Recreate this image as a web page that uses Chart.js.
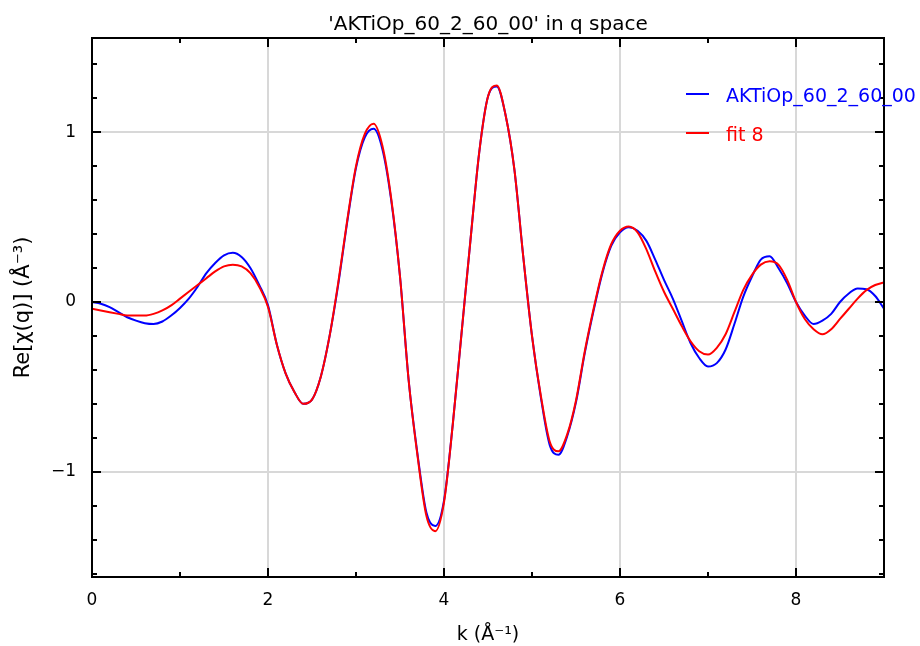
<!DOCTYPE html>
<html lang="en">
  <head>
    <meta charset="UTF-8" />
    <title>AKTiOp q space</title>
    <script src="https://cdn.jsdelivr.net/npm/chart.js@4/dist/chart.umd.min.js"></script>
    <style>
      html, body { margin: 0; padding: 0; background: #fff; }
      #wrap { width: 920px; height: 646px; }
    </style>
  </head>
  <body>
    <div id="wrap"><canvas id="qChart" width="920" height="646"></canvas></div>

    <script>
      const kValues = [
        0.0, 0.1, 0.2, 0.3, 0.4, 0.5, 0.6, 0.7, 0.8, 0.9,
        1.0, 1.1, 1.2, 1.3, 1.4, 1.5, 1.6, 1.7, 1.8, 1.9,
        2.0, 2.1, 2.2, 2.3, 2.4, 2.5, 2.6, 2.7, 2.8, 2.9,
        3.0, 3.1, 3.2, 3.3, 3.4, 3.5, 3.6, 3.7, 3.8, 3.9,
        4.0, 4.1, 4.2, 4.3, 4.4, 4.5, 4.6, 4.7, 4.8, 4.9,
        5.0, 5.1, 5.2, 5.3, 5.4, 5.5, 5.6, 5.7, 5.8, 5.9,
        6.0, 6.1, 6.2, 6.3, 6.4, 6.5, 6.6, 6.7, 6.8, 6.9,
        7.0, 7.1, 7.2, 7.3, 7.4, 7.5, 7.6, 7.7, 7.8, 7.9,
        8.0, 8.1, 8.2, 8.3, 8.4, 8.5, 8.6, 8.7, 8.8, 8.9,
        9.0
      ];

      // data: AKTiOp_60_2_60_00 (blue)
      const dataValues = [
        0.00, -0.01, -0.03, -0.06, -0.09, -0.11, -0.125, -0.13, -0.115, -0.08,
        -0.035, 0.02, 0.09, 0.17, 0.23, 0.275, 0.29, 0.265, 0.20, 0.10,
        -0.02, -0.25, -0.42, -0.53, -0.60, -0.575, -0.44, -0.20, 0.11, 0.47,
        0.79, 0.97, 1.02, 0.90, 0.60, 0.15, -0.47, -0.90, -1.24, -1.32,
        -1.17, -0.72, -0.18, 0.36, 0.88, 1.21, 1.27, 1.10, 0.78, 0.27,
        -0.20, -0.56, -0.84, -0.90, -0.79, -0.59, -0.30, -0.05, 0.17, 0.33,
        0.41, 0.44, 0.42, 0.36, 0.25, 0.13, 0.02, -0.11, -0.24, -0.33,
        -0.38, -0.36, -0.28, -0.13, 0.03, 0.15, 0.25, 0.27, 0.20, 0.11,
        0.00, -0.08, -0.13, -0.11, -0.07, 0.00, 0.05, 0.08, 0.075, 0.035,
        -0.04
      ];

      // fit 8 (red)
      const fitValues = [
        -0.04, -0.05, -0.06, -0.07, -0.08, -0.08, -0.08, -0.07, -0.05, -0.02,
        0.02, 0.06, 0.10, 0.14, 0.18, 0.21, 0.22, 0.21, 0.17, 0.09,
        -0.03, -0.25, -0.42, -0.53, -0.60, -0.575, -0.44, -0.20, 0.12, 0.48,
        0.80, 0.99, 1.05, 0.92, 0.61, 0.15, -0.47, -0.91, -1.26, -1.35,
        -1.18, -0.72, -0.18, 0.36, 0.88, 1.21, 1.275, 1.10, 0.78, 0.27,
        -0.20, -0.55, -0.82, -0.88, -0.78, -0.58, -0.29, -0.04, 0.18, 0.34,
        0.42, 0.445, 0.41, 0.31, 0.18, 0.06, -0.04, -0.14, -0.23, -0.29,
        -0.31, -0.27, -0.19, -0.06, 0.07, 0.16, 0.22, 0.24, 0.22, 0.13,
        0.00, -0.10, -0.16, -0.19, -0.16, -0.10, -0.04, 0.02, 0.07, 0.10,
        0.115
      ];

      const seriesLabels = ["AKTiOp_60_2_60_00", "fit 8"];
      const seriesColors = ["#0000ff", "#ff0000"];

      // tick labels / gridlines
      const xTickValues = [0, 2, 4, 6, 8];
      const yTickValues = [-1, 0, 1];
      const xMinorTicks = [0, 1, 2, 3, 4, 5, 6, 7, 8, 9];
      const yMinorTicks = [-1.6, -1.4, -1.2, -1, -0.8, -0.6, -0.4, -0.2, 0, 0.2, 0.4, 0.6, 0.8, 1, 1.2, 1.4];

      const FONT = "'DejaVu Sans', sans-serif";

      function toPoints(xs, ys) {
        return xs.map((x, i) => ({ x: x, y: ys[i] }));
      }

      // frame + inward ticks + legend in the upper right
      const framePlugin = {
        id: "frame",
        afterDraw(chart) {
          const ctx = chart.ctx;
          const a = chart.chartArea;
          const xs = chart.scales.x;
          const ys = chart.scales.y;
          ctx.save();
          ctx.strokeStyle = "#000";
          ctx.lineWidth = 2;
          ctx.strokeRect(a.left, a.top, a.right - a.left, a.bottom - a.top);

          ctx.beginPath();
          xMinorTicks.forEach((v) => {
            const px = Math.round(xs.getPixelForValue(v));
            const len = v % 2 === 0 ? 9 : 5;
            ctx.moveTo(px, a.bottom);
            ctx.lineTo(px, a.bottom - len);
            ctx.moveTo(px, a.top);
            ctx.lineTo(px, a.top + len);
          });
          yMinorTicks.forEach((v) => {
            const py = Math.round(ys.getPixelForValue(v));
            const len = Math.abs(v - Math.round(v)) < 1e-6 ? 9 : 5;
            ctx.moveTo(a.left, py);
            ctx.lineTo(a.left + len, py);
            ctx.moveTo(a.right, py);
            ctx.lineTo(a.right - len, py);
          });
          ctx.stroke();

          // legend
          ctx.font = "19px " + FONT;
          ctx.textBaseline = "middle";
          ctx.textAlign = "left";
          const rows = [95, 134];
          seriesLabels.forEach((lab, i) => {
            const y = rows[i];
            ctx.strokeStyle = seriesColors[i];
            ctx.lineWidth = 2;
            ctx.beginPath();
            ctx.moveTo(a.right - 198, y - 1);
            ctx.lineTo(a.right - 175, y - 1);
            ctx.stroke();
            ctx.fillStyle = seriesColors[i];
            ctx.fillText(lab, a.right - 158, y + 2);
          });
          ctx.restore();
        },
      };

      const ctx = document.getElementById("qChart").getContext("2d");
      const qChart = new Chart(ctx, {
        type: "line",
        data: {
          datasets: [
            {
              label: seriesLabels[0],
              data: toPoints(kValues, dataValues),
              borderColor: seriesColors[0],
              borderWidth: 2,
              pointRadius: 0,
              cubicInterpolationMode: "monotone",
              order: 1,
            },
            {
              label: seriesLabels[1],
              data: toPoints(kValues, fitValues),
              borderColor: seriesColors[1],
              borderWidth: 2,
              pointRadius: 0,
              cubicInterpolationMode: "monotone",
              order: 0,
            },
          ],
        },
        options: {
          responsive: false,
          animation: false,
          layout: { padding: { left: 0, right: 36, top: 0, bottom: 0 } },
          plugins: {
            legend: { display: false },
            tooltip: { enabled: false },
            title: {
              display: true,
              fullSize: false, // center over the plot, not the canvas
              text: "'AKTiOp_60_2_60_00' in q space",
              color: "#000",
              font: { family: FONT, size: 20, weight: "normal" },
              padding: { top: 13, bottom: 1 },
            },
          },
          scales: {
            x: {
              type: "linear",
              min: 0,
              max: 9,
              afterBuildTicks: (s) => { s.ticks = xTickValues.map((v) => ({ value: v })); },
              afterFit: (s) => { s.height = 69; },
              grid: { color: "#d8d8d8", lineWidth: 2, drawTicks: false },
              border: { display: false },
              ticks: {
                color: "#000",
                padding: 13,
                maxRotation: 0,
                font: { family: FONT, size: 17 },
              },
              title: {
                display: true,
                text: "k (Å⁻¹)",
                color: "#000",
                font: { family: FONT, size: 19 },
                padding: { top: 2, bottom: 0 },
              },
            },
            y: {
              type: "linear",
              min: -1.62,
              max: 1.555,
              afterBuildTicks: (s) => { s.ticks = yTickValues.map((v) => ({ value: v })); },
              afterFit: (s) => { s.width = 92; },
              grid: { color: "#d8d8d8", lineWidth: 2, drawTicks: false },
              border: { display: false },
              ticks: {
                color: "#000",
                padding: 16,
                font: { family: FONT, size: 17 },
                callback: (v) => (v < 0 ? "\u2212" + Math.abs(v) : String(v)),
              },
              title: {
                display: true,
                text: "Re[χ(q)] (Å⁻³)",
                color: "#000",
                font: { family: FONT, size: 21 },
                padding: { top: 11, bottom: 0 },
              },
            },
          },
        },
        plugins: [framePlugin],
      });
    </script>
  </body>
</html>
